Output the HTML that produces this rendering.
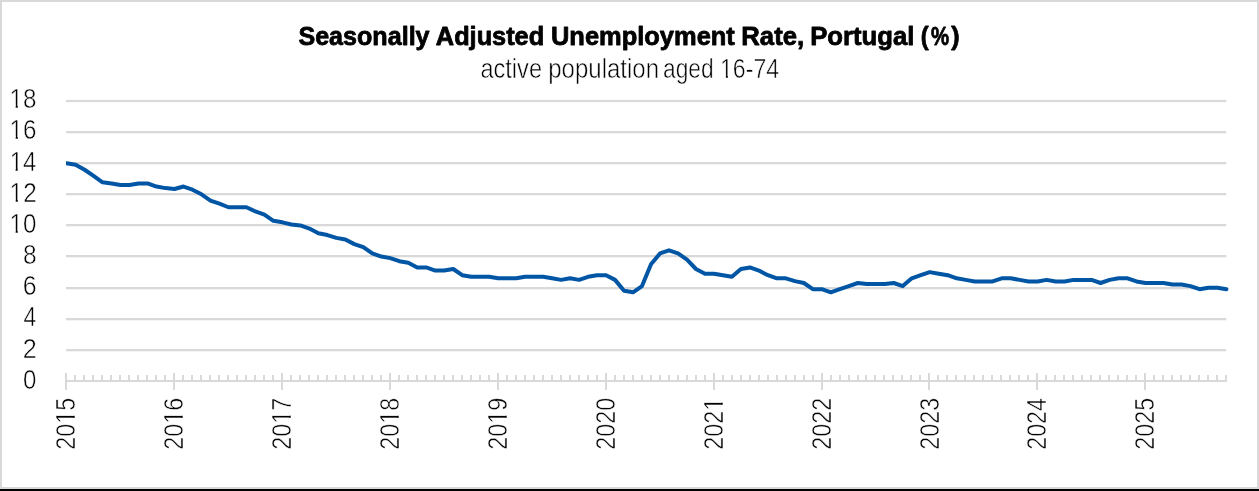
<!DOCTYPE html><html><head><meta charset="utf-8"><title>Chart</title><style>html,body{margin:0;padding:0;background:#fff;overflow:hidden}svg{display:block}</style></head><body><svg width="1259" height="491" viewBox="0 0 1259 491"><rect x="0" y="0" width="1259" height="491" fill="#fff"/><rect x="0" y="0" width="1259" height="2" fill="#d9d9d9"/><rect x="0" y="0" width="2" height="489" fill="#d9d9d9"/><rect x="1257" y="0" width="2" height="489" fill="#d9d9d9"/><rect x="0" y="487" width="1259" height="2" fill="#d9d9d9"/><rect x="0" y="489" width="1259" height="2" fill="#000"/><rect x="66" y="99.85" width="1160.3" height="2.3" fill="#d9d9d9"/><rect x="66" y="131" width="1160.3" height="2.3" fill="#d9d9d9"/><rect x="66" y="162" width="1160.3" height="2.3" fill="#d9d9d9"/><rect x="66" y="193" width="1160.3" height="2.3" fill="#d9d9d9"/><rect x="66" y="224" width="1160.3" height="2.3" fill="#d9d9d9"/><rect x="66" y="255" width="1160.3" height="2.3" fill="#d9d9d9"/><rect x="66" y="287" width="1160.3" height="2.3" fill="#d9d9d9"/><rect x="66" y="318" width="1160.3" height="2.3" fill="#d9d9d9"/><rect x="66" y="349" width="1160.3" height="2.3" fill="#d9d9d9"/><path d="M65 381.0H1227M66 373V390M75 375V381M84 375V381M93 375V381M102 375V381M111 375V381M120 375V381M129 375V381M138 375V381M147 375V381M156 375V381M165 375V381M174 373V390M183 375V381M192 375V381M201 375V381M210 375V381M219 375V381M228 375V381M237 375V381M246 375V381M255 375V381M264 375V381M273 375V381M282 373V390M291 375V381M300 375V381M309 375V381M318 375V381M327 375V381M336 375V381M345 375V381M354 375V381M363 375V381M372 375V381M381 375V381M390 373V390M399 375V381M408 375V381M417 375V381M426 375V381M435 375V381M444 375V381M453 375V381M462 375V381M471 375V381M480 375V381M489 375V381M498 373V390M507 375V381M516 375V381M525 375V381M534 375V381M543 375V381M552 375V381M561 375V381M570 375V381M579 375V381M588 375V381M597 375V381M606 373V390M615 375V381M624 375V381M633 375V381M642 375V381M651 375V381M660 375V381M669 375V381M678 375V381M687 375V381M696 375V381M705 375V381M714 373V390M723 375V381M732 375V381M741 375V381M750 375V381M759 375V381M768 375V381M777 375V381M786 375V381M795 375V381M804 375V381M813 375V381M822 373V390M831 375V381M840 375V381M849 375V381M858 375V381M866 375V381M875 375V381M884 375V381M893 375V381M902 375V381M911 375V381M920 375V381M929 373V390M938 375V381M947 375V381M956 375V381M965 375V381M974 375V381M983 375V381M992 375V381M1001 375V381M1010 375V381M1019 375V381M1028 375V381M1037 373V390M1046 375V381M1055 375V381M1064 375V381M1073 375V381M1082 375V381M1091 375V381M1100 375V381M1109 375V381M1118 375V381M1127 375V381M1136 375V381M1145 373V390M1154 375V381M1163 375V381M1172 375V381M1181 375V381M1190 375V381M1199 375V381M1208 375V381M1217 375V381M1226 375V381" stroke="#d9d9d9" stroke-width="2" fill="none"/><clipPath id="cp"><rect x="66" y="90" width="1180" height="300"/></clipPath><path d="M66.60 163.22L75.59 164.77L84.58 169.75L93.57 175.97L102.56 182.35L111.55 183.44L120.55 184.99L129.54 184.99L138.53 183.44L147.52 183.44L156.51 186.55L165.50 188.11L174.49 189.04L183.48 186.55L192.47 189.66L201.47 194.33L210.46 200.55L219.45 203.66L228.44 207.24L237.43 207.24L246.42 207.24L255.41 211.44L264.40 214.55L273.39 220.77L282.38 222.33L291.38 224.51L300.37 225.44L309.36 228.55L318.35 233.22L327.34 235.08L336.33 237.88L345.32 239.44L354.31 244.11L363.30 247.22L372.29 253.44L381.29 256.55L390.28 258.11L399.27 261.22L408.26 262.77L417.25 267.44L426.24 267.44L435.23 270.55L444.22 270.55L453.21 269.00L462.20 275.22L471.19 276.77L480.19 276.77L489.18 276.77L498.17 278.33L507.16 278.33L516.15 278.33L525.14 276.77L534.13 276.77L543.12 276.77L552.11 278.33L561.10 279.89L570.10 278.33L579.09 279.89L588.08 276.77L597.07 275.22L606.06 275.22L615.05 279.89L624.04 290.78L633.03 292.33L642.02 286.11L651.01 264.33L660.01 253.44L669.00 250.33L677.99 253.44L686.98 259.66L695.97 269.00L704.96 273.66L713.95 273.66L722.94 275.22L731.93 276.77L740.92 269.00L749.92 267.44L758.91 270.55L767.90 275.22L776.89 278.33L785.88 278.33L794.87 281.13L803.86 283.00L812.85 289.22L821.84 289.22L830.83 292.33L839.83 289.22L848.82 286.11L857.81 283.00L866.80 284.09L875.79 284.09L884.78 284.09L893.77 283.00L902.76 286.11L911.75 278.33L920.74 275.22L929.74 272.11L938.73 273.66L947.72 275.22L956.71 278.33L965.70 279.89L974.69 281.44L983.68 281.44L992.67 281.44L1001.66 278.33L1010.65 278.33L1019.65 279.89L1028.64 281.44L1037.63 281.44L1046.62 279.89L1055.61 281.44L1064.60 281.44L1073.59 279.89L1082.58 279.89L1091.57 279.89L1100.56 283.00L1109.56 279.89L1118.55 278.33L1127.54 278.33L1136.53 281.44L1145.52 283.00L1154.51 283.00L1163.50 283.00L1172.49 284.55L1181.48 284.55L1190.47 286.11L1199.47 289.22L1208.46 287.66L1217.45 287.66L1226.44 289.22" stroke="#0055a4" stroke-width="4" stroke-linejoin="round" stroke-linecap="round" fill="none" clip-path="url(#cp)"/><g font-family="'Liberation Sans', sans-serif" fill="#000" style="white-space:pre" opacity="0.999"><text transform="translate(298.38 45.30) scale(0.9552 1)" font-size="26.3" font-weight="bold" stroke="#000" stroke-width="0.8" stroke-linejoin="round">Seasonally</text><text transform="translate(435.87 45.30) scale(0.9631 1)" font-size="26.3" font-weight="bold" stroke="#000" stroke-width="0.8" stroke-linejoin="round">Adjusted</text><text transform="translate(550.97 45.30) scale(0.9683 1)" font-size="26.3" font-weight="bold" stroke="#000" stroke-width="0.8" stroke-linejoin="round">Unemployment</text><text transform="translate(741.33 45.30) scale(0.9763 1)" font-size="26.3" font-weight="bold" stroke="#000" stroke-width="0.8" stroke-linejoin="round">Rate,</text><text transform="translate(810.18 45.30) scale(0.9778 1)" font-size="26.3" font-weight="bold" stroke="#000" stroke-width="0.8" stroke-linejoin="round">Portugal</text><text transform="translate(920.82 45.30) scale(0.9027 1)" font-size="26.3" font-weight="bold" stroke="#000" stroke-width="0.8" stroke-linejoin="round">(</text><text transform="translate(930.99 45.30) scale(0.7760 1)" font-size="26.3" font-weight="bold" stroke="#000" stroke-width="0.8" stroke-linejoin="round">%</text><text transform="translate(951.18 45.30) scale(0.9565 1)" font-size="26.3" font-weight="bold" stroke="#000" stroke-width="0.8" stroke-linejoin="round">)</text><text transform="translate(480.40 77.65) scale(0.8613 1)" font-size="27.4" font-weight="normal" stroke="#fff" stroke-width="0.55">active</text><text transform="translate(548.25 77.65) scale(0.8762 1)" font-size="27.4" font-weight="normal" stroke="#fff" stroke-width="0.55">population</text><text transform="translate(663.03 77.65) scale(0.8307 1)" font-size="27.4" font-weight="normal" stroke="#fff" stroke-width="0.55">aged</text><g transform="translate(720.04 77.65) scale(0.8424 1)"><text font-size="27.4" font-weight="normal" stroke="#fff" stroke-width="0.55">16-74</text><rect x="0.54" y="-2.34" width="6.30" height="3.55" fill="#fff"/><rect x="9.37" y="-2.34" width="5.69" height="3.55" fill="#fff"/></g><g transform="translate(9.61 107.85) scale(0.8697 1)"><text font-size="27.8" font-weight="normal" stroke="#fff" stroke-width="0.55">18</text><rect x="0.54" y="-2.38" width="6.39" height="3.60" fill="#fff"/><rect x="9.50" y="-2.38" width="5.77" height="3.60" fill="#fff"/></g><g transform="translate(9.61 138.65) scale(0.8701 1)"><text font-size="27.8" font-weight="normal" stroke="#fff" stroke-width="0.55">16</text><rect x="0.54" y="-2.38" width="6.39" height="3.60" fill="#fff"/><rect x="9.50" y="-2.38" width="5.77" height="3.60" fill="#fff"/></g><g transform="translate(9.63 171.25) scale(0.8574 1)"><text font-size="27.8" font-weight="normal" stroke="#fff" stroke-width="0.55">14</text><rect x="0.54" y="-2.38" width="6.39" height="3.60" fill="#fff"/><rect x="9.50" y="-2.38" width="5.77" height="3.60" fill="#fff"/></g><g transform="translate(9.60 202.05) scale(0.8757 1)"><text font-size="27.8" font-weight="normal" stroke="#fff" stroke-width="0.55">12</text><rect x="0.54" y="-2.38" width="6.39" height="3.60" fill="#fff"/><rect x="9.50" y="-2.38" width="5.77" height="3.60" fill="#fff"/></g><g transform="translate(9.62 233.05) scale(0.8658 1)"><text font-size="27.8" font-weight="normal" stroke="#fff" stroke-width="0.55">10</text><rect x="0.54" y="-2.38" width="6.39" height="3.60" fill="#fff"/><rect x="9.50" y="-2.38" width="5.77" height="3.60" fill="#fff"/></g><text transform="translate(22.88 263.90) scale(0.8816 1)" font-size="27.8" font-weight="normal" stroke="#fff" stroke-width="0.55">8</text><text transform="translate(22.68 295.05) scale(0.8965 1)" font-size="27.8" font-weight="normal" stroke="#fff" stroke-width="0.55">6</text><text transform="translate(23.43 326.15) scale(0.8209 1)" font-size="27.8" font-weight="normal" stroke="#fff" stroke-width="0.55">4</text><text transform="translate(22.68 357.85) scale(0.9080 1)" font-size="27.8" font-weight="normal" stroke="#fff" stroke-width="0.55">2</text><text transform="translate(23.01 389.00) scale(0.8654 1)" font-size="27.8" font-weight="normal" stroke="#fff" stroke-width="0.55">0</text><g transform="translate(75.05 449.67) rotate(-90) scale(0.8384 1)"><text font-size="27.8" stroke="#fff" stroke-width="0.55">2015</text><rect x="31.47" y="-2.38" width="6.39" height="3.60" fill="#fff"/><rect x="40.42" y="-2.38" width="5.77" height="3.60" fill="#fff"/></g><g transform="translate(183.05 449.67) rotate(-90) scale(0.8392 1)"><text font-size="27.8" stroke="#fff" stroke-width="0.55">2016</text><rect x="31.47" y="-2.38" width="6.39" height="3.60" fill="#fff"/><rect x="40.42" y="-2.38" width="5.77" height="3.60" fill="#fff"/></g><g transform="translate(291.05 449.68) rotate(-90) scale(0.8417 1)"><text font-size="27.8" stroke="#fff" stroke-width="0.55">2017</text><rect x="31.47" y="-2.38" width="6.39" height="3.60" fill="#fff"/><rect x="40.42" y="-2.38" width="5.77" height="3.60" fill="#fff"/></g><g transform="translate(399.05 449.67) rotate(-90) scale(0.8390 1)"><text font-size="27.8" stroke="#fff" stroke-width="0.55">2018</text><rect x="31.47" y="-2.38" width="6.39" height="3.60" fill="#fff"/><rect x="40.42" y="-2.38" width="5.77" height="3.60" fill="#fff"/></g><g transform="translate(507.05 449.68) rotate(-90) scale(0.8405 1)"><text font-size="27.8" stroke="#fff" stroke-width="0.55">2019</text><rect x="31.47" y="-2.38" width="6.39" height="3.60" fill="#fff"/><rect x="40.42" y="-2.38" width="5.77" height="3.60" fill="#fff"/></g><g transform="translate(615.05 449.67) rotate(-90) scale(0.8373 1)"><text font-size="27.8" stroke="#fff" stroke-width="0.55">2020</text></g><g transform="translate(723.05 449.68) rotate(-90) scale(0.8411 1)"><text font-size="27.8" stroke="#fff" stroke-width="0.55">2021</text><rect x="46.93" y="-2.38" width="6.39" height="3.60" fill="#fff"/><rect x="55.89" y="-2.38" width="5.77" height="3.60" fill="#fff"/></g><g transform="translate(831.05 449.68) rotate(-90) scale(0.8417 1)"><text font-size="27.8" stroke="#fff" stroke-width="0.55">2022</text></g><g transform="translate(939.05 449.67) rotate(-90) scale(0.8392 1)"><text font-size="27.8" stroke="#fff" stroke-width="0.55">2023</text></g><g transform="translate(1046.05 449.67) rotate(-90) scale(0.8335 1)"><text font-size="27.8" stroke="#fff" stroke-width="0.55">2024</text></g><g transform="translate(1154.05 449.67) rotate(-90) scale(0.8384 1)"><text font-size="27.8" stroke="#fff" stroke-width="0.55">2025</text></g></g></svg></body></html>
